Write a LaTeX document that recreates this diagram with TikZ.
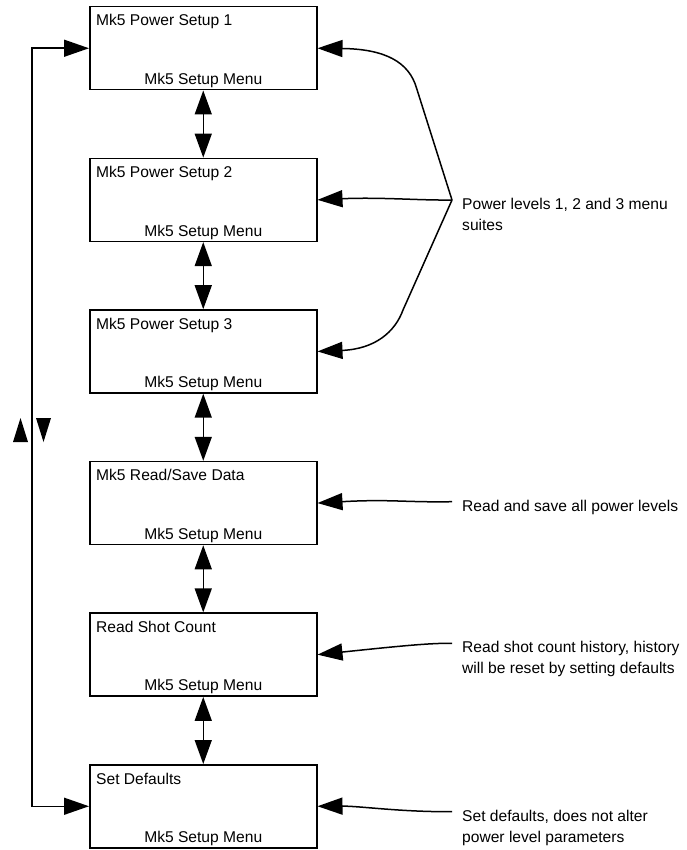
\documentclass[tikz,border=0pt]{standalone}
\usepackage{fontspec}
\setmainfont{Liberation Sans}
\usetikzlibrary{arrows.meta}
\begin{document}
\begin{tikzpicture}[x=1pt,y=-1pt,
  box/.style={draw, line width=1.5pt, minimum width=227pt, minimum height=83pt, inner sep=0pt, anchor=north west},
  txt/.style={font=\fontsize{15.6}{21}\selectfont, inner sep=0pt},
  con/.style={line width=1.5pt},
  tip/.style={-{Triangle[length=25pt,width=17pt]}},
  dbl/.style={{Triangle[length=24pt,width=17pt]}-{Triangle[length=24pt,width=17pt]}}]
\useasboundingbox (0,0) rectangle (686,850);

% boxes
\node[box] (b1) at (89,6) {};
\node[box] (b2) at (89,157.6) {};
\node[box] (b3) at (89,309.2) {};
\node[box] (b4) at (89,460.8) {};
\node[box] (b5) at (89,612.4) {};
\node[box] (b6) at (89,764) {};

% box texts
\node[txt, anchor=base west] (t1) at ([shift={(7,20)}]b1.north west) {Mk5 Power Setup 1};
\node[txt, anchor=base west] (t2) at ([shift={(7,20)}]b2.north west) {Mk5 Power Setup 2};
\node[txt, anchor=base west] (t3) at ([shift={(7,20)}]b3.north west) {Mk5 Power Setup 3};
\node[txt, anchor=base west] (t4) at ([shift={(7,20)}]b4.north west) {Mk5 Read/Save Data};
\node[txt, anchor=base west] (t5) at ([shift={(7,20)}]b5.north west) {Read Shot Count};
\node[txt, anchor=base west] (t6) at ([shift={(7,20)}]b6.north west) {Set Defaults};
\foreach \i in {1,...,6}{
  \node[txt, anchor=base] (m\i) at ([shift={(0,-6)}]b\i.south) {Mk5 Setup Menu};
}

% vertical double arrows
\draw[con,dbl] (b1.south) -- (b2.north);
\draw[con,dbl] (b2.south) -- (b3.north);
\draw[con,dbl] (b3.south) -- (b4.north);
\draw[con,dbl] (b4.south) -- (b5.north);
\draw[con,dbl] (b5.south) -- (b6.north);

% left loop
\coordinate (lx) at (32,0);
\draw[con,{Triangle[length=25pt,width=17pt]}-{Triangle[length=25pt,width=17pt]}]
  (b1.west) -| (lx |- b6.west) -- (b6.west);
\fill (13,442) -- (28,442) -- (20.5,418) -- cycle;
\fill (36,418) -- (51,418) -- (43.5,442) -- cycle;

% power level connectors
\coordinate (J) at (452,200);
\coordinate (k1) at (416.5,88);
\coordinate (k3) at (403,310);
\draw[con,tip] (J) -- (k1) .. controls (409,62) and (385,49) .. (b1.east);
\draw[con,tip] (J) .. controls (420,200.5) and (380,197) .. (b2.east);
\draw[con,tip] (J) -- (k3) .. controls (395,332) and (375,349) .. (b3.east);
\node[txt, anchor=base west, align=left] (lp) at (462,230.5) {Power levels 1, 2 and 3 menu\\suites};

% other connectors
\coordinate (r4) at (452,501.7);
\coordinate (r5) at (452,643.3);
\coordinate (r6) at (452,811.7);
\draw[con,tip] (r4) .. controls (405,502.5) and (390,499) .. (b4.east);
\draw[con,tip] (r5) .. controls (430,643) and (400,646) .. (b5.east);
\draw[con,tip] (r6) .. controls (400,812) and (360,806) .. (b6.east);
\node[txt, anchor=base west] (l4) at (462,511) {Read and save all power levels};
\node[txt, anchor=base west, align=left] (l5) at (462,673.3) {Read shot count history, history\\will be reset by setting defaults};
\node[txt, anchor=base west, align=left] (l6) at (462,842.7) {Set defaults, does not alter\\power level parameters};
\end{tikzpicture}
\end{document}
